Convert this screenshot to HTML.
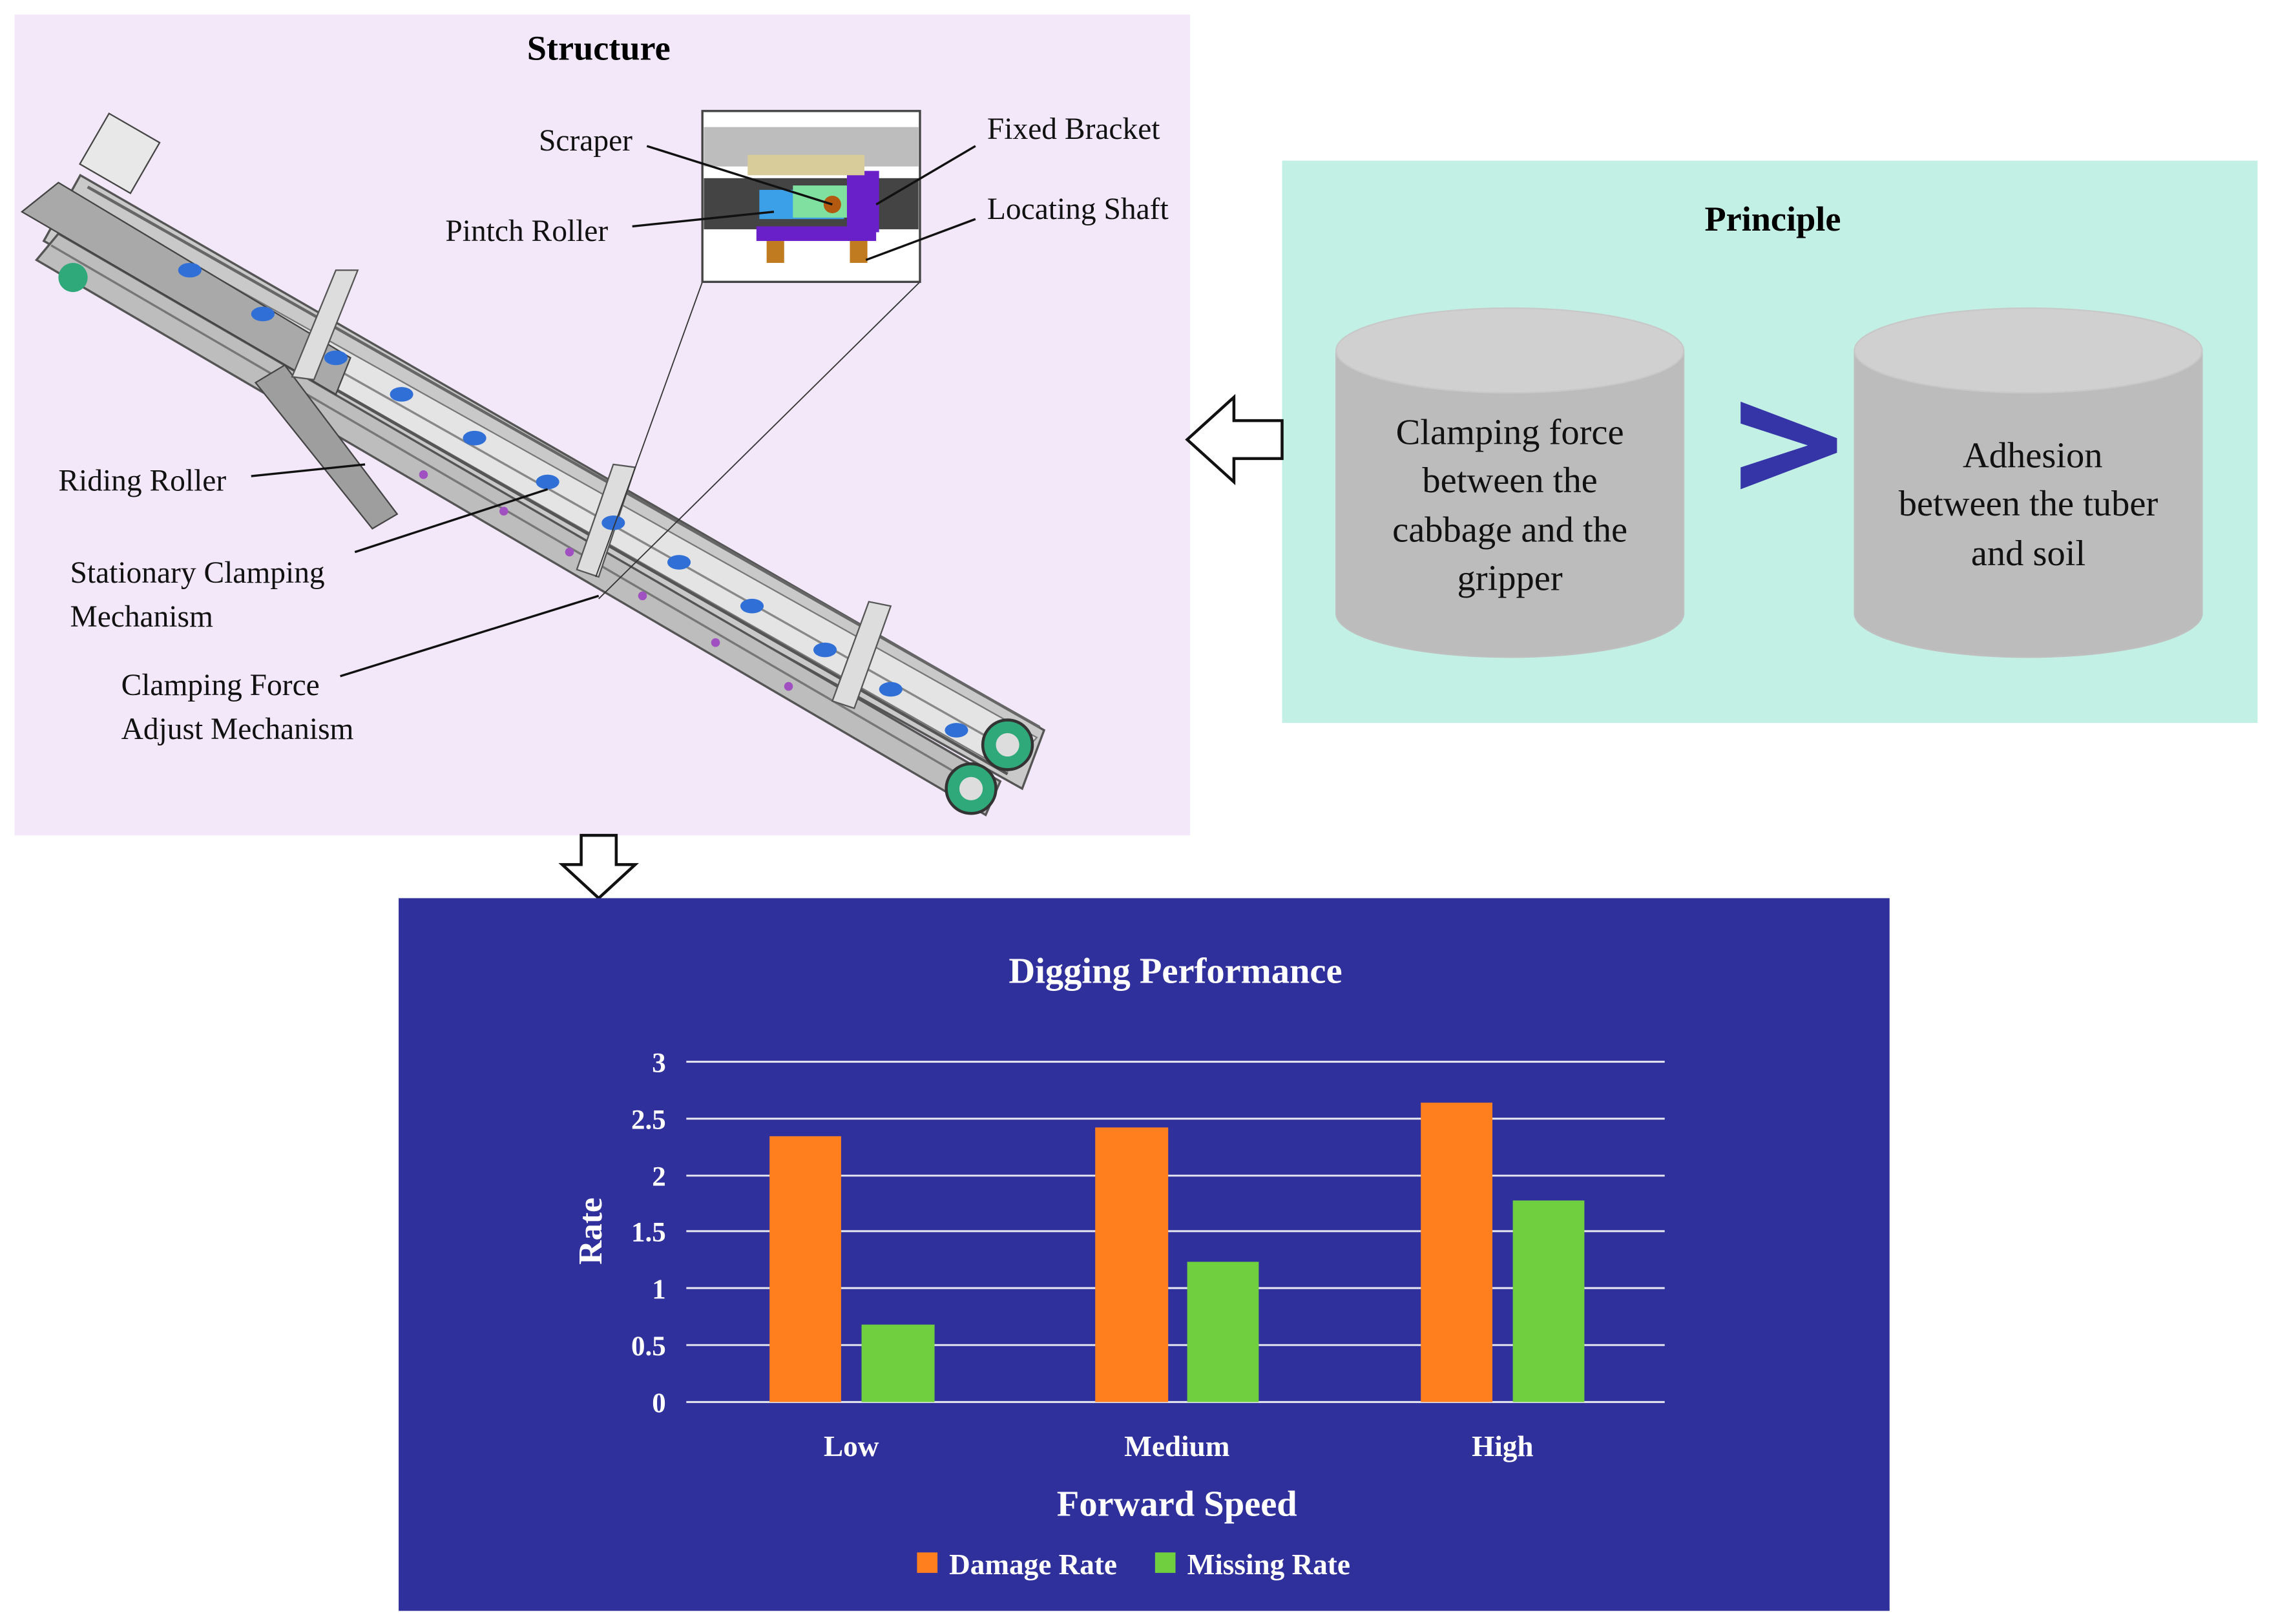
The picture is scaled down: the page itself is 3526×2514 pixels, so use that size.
<!DOCTYPE html>
<html><head><meta charset="utf-8"><style>html,body{margin:0;padding:0;background:#fff}svg{display:block}</style></head>
<body>
<svg width="3526" height="2514" viewBox="0 0 1560 1112" preserveAspectRatio="none" xmlns="http://www.w3.org/2000/svg" font-family="'Liberation Serif',serif">
<rect x="0" y="0" width="1560" height="1112" fill="#fff"/>
<!-- Structure panel -->
<rect x="10" y="10" width="805" height="562" fill="#f3e8fa"/>
<text x="410" y="41" font-size="24" font-weight="bold" text-anchor="middle">Structure</text>
<!-- machine -->
<g>
  <polygon points="55,120 715,500 700,540 30,165" fill="#c9c9c9" stroke="#555" stroke-width="1.5"/>
  <polygon points="50,135 710,505 690,528 35,155" fill="#e4e4e4" stroke="#777"/>
  <polygon points="40,160 685,535 675,558 25,178" fill="#bdbdbd" stroke="#555" stroke-width="1.5"/>
  <line x1="60" y1="128" x2="712" y2="498" stroke="#666" stroke-width="2"/>
  <line x1="45" y1="148" x2="700" y2="518" stroke="#888" stroke-width="1.5"/>
  <line x1="40" y1="158" x2="690" y2="530" stroke="#555" stroke-width="2"/>
  <line x1="35" y1="168" x2="682" y2="545" stroke="#777" stroke-width="1.5"/>
  <!-- left end plate -->
  <polygon points="15,145 40,125 240,245 230,270" fill="#a9a9a9" stroke="#444"/>
  <polygon points="175,262 195,250 272,352 255,362" fill="#9e9e9e" stroke="#444"/>
  <circle cx="80" cy="110" r="10" fill="#ddd" stroke="#333" stroke-width="2"/>
  <rect x="62" y="85" width="40" height="40" fill="#e8e8e8" stroke="#444" transform="rotate(30 82 105)"/>
  <!-- frames -->
  <polygon points="230,185 245,185 215,260 200,258" fill="#ddd" stroke="#555"/>
  <polygon points="420,318 435,320 410,395 395,390" fill="#ddd" stroke="#555"/>
  <polygon points="595,412 610,415 585,485 570,480" fill="#ddd" stroke="#555"/>
  <!-- blue clamps -->
  <g fill="#2f6fd6">
    <ellipse cx="130" cy="185" rx="8" ry="5"/><ellipse cx="180" cy="215" rx="8" ry="5"/>
    <ellipse cx="230" cy="245" rx="8" ry="5"/><ellipse cx="275" cy="270" rx="8" ry="5"/>
    <ellipse cx="325" cy="300" rx="8" ry="5"/><ellipse cx="375" cy="330" rx="8" ry="5"/>
    <ellipse cx="420" cy="358" rx="8" ry="5"/><ellipse cx="465" cy="385" rx="8" ry="5"/>
    <ellipse cx="515" cy="415" rx="8" ry="5"/><ellipse cx="565" cy="445" rx="8" ry="5"/>
    <ellipse cx="610" cy="472" rx="8" ry="5"/><ellipse cx="655" cy="500" rx="8" ry="5"/>
  </g>
  <g fill="#a050c0">
    <circle cx="290" cy="325" r="3"/><circle cx="345" cy="350" r="3"/><circle cx="390" cy="378" r="3"/>
    <circle cx="440" cy="408" r="3"/><circle cx="490" cy="440" r="3"/><circle cx="540" cy="470" r="3"/>
  </g>
  <!-- end wheels -->
  <circle cx="690" cy="510" r="17" fill="#2fa87a" stroke="#333" stroke-width="2"/>
  <circle cx="690" cy="510" r="8" fill="#ddd"/>
  <circle cx="665" cy="540" r="17" fill="#2fa87a" stroke="#333" stroke-width="2"/>
  <circle cx="665" cy="540" r="8" fill="#ddd"/>
  <circle cx="50" cy="190" r="10" fill="#2fa87a"/>
</g>
<!-- inset -->
<line x1="481" y1="193" x2="408" y2="395" stroke="#333" stroke-width="0.8"/>
<line x1="630" y1="193" x2="410" y2="410" stroke="#333" stroke-width="0.8"/>
<rect x="481" y="76" width="149" height="117" fill="#fff" stroke="#444" stroke-width="1.5"/>
<rect x="482" y="87" width="147" height="27" fill="#bdbdbd"/>
<rect x="482" y="122" width="147" height="35" fill="#444"/>
<rect x="555" y="140" width="100" height="40" fill="none"/>
<rect x="520" y="130" width="58" height="20" fill="#3ba0e8"/>
<rect x="543" y="127" width="38" height="22" fill="#7fe0a0"/>
<circle cx="570" cy="140" r="6" fill="#b35a10"/>
<rect x="580" y="117" width="22" height="42" fill="#6a20c8"/>
<rect x="518" y="155" width="82" height="10" fill="#6a20c8"/>
<rect x="512" y="106" width="80" height="14" fill="#d8cc9a"/>
<rect x="525" y="165" width="12" height="15" fill="#c07a20"/>
<rect x="582" y="165" width="12" height="15" fill="#c07a20"/>
<!-- labels -->
<g font-size="21" fill="#111">
<text x="369" y="103">Scraper</text>
<text x="305" y="165">Pintch Roller</text>
<text x="676" y="95">Fixed Bracket</text>
<text x="676" y="150">Locating Shaft</text>
<text x="40" y="336">Riding Roller</text>
<text x="48" y="399">Stationary Clamping</text>
<text x="48" y="429">Mechanism</text>
<text x="83" y="476">Clamping Force</text>
<text x="83" y="506">Adjust Mechanism</text>
</g>
<g stroke="#111" stroke-width="1.5" fill="none">
<line x1="443" y1="100" x2="570" y2="140"/>
<line x1="433" y1="155" x2="530" y2="145"/>
<line x1="668" y1="100" x2="600" y2="140"/>
<line x1="668" y1="150" x2="593" y2="178"/>
<line x1="172" y1="326" x2="250" y2="318"/>
<line x1="243" y1="378" x2="375" y2="335"/>
<line x1="233" y1="463" x2="410" y2="408"/>
</g>
<!-- Principle panel -->
<rect x="878" y="110" width="668" height="385" fill="#c3f0e5"/>
<text x="1214" y="158" font-size="24" font-weight="bold" text-anchor="middle">Principle</text>
<g fill="#bfbfbf" stroke="#bfbfbf">
<path d="M915,240 L915,420 A119,30 0 0 0 1153,420 L1153,240 Z" fill="#bcbcbc"/>
<ellipse cx="1034" cy="240" rx="119" ry="29" fill="#d0d0d0" stroke="#c8c8c8"/>
<path d="M1270,240 L1270,420 A119,30 0 0 0 1508,420 L1508,240 Z" fill="#bcbcbc"/>
<ellipse cx="1389" cy="240" rx="119" ry="29" fill="#d0d0d0" stroke="#c8c8c8"/>
</g>
<g font-size="25" fill="#111" text-anchor="middle">
<text x="1034" y="304">Clamping force</text>
<text x="1034" y="337">between the</text>
<text x="1034" y="371">cabbage and the</text>
<text x="1034" y="404">gripper</text>
<text x="1392" y="320">Adhesion</text>
<text x="1389" y="353">between the tuber</text>
<text x="1389" y="387">and soil</text>
</g>
<polygon points="1192,275 1258,300 1258,310 1192,335 1192,320 1238,305 1192,290" fill="#3535a8"/>
<!-- arrows -->
<polygon points="878,288 845,288 845,272 813,301 845,330 845,314 878,314" fill="#fff" stroke="#111" stroke-width="2"/>
<polygon points="398,572 422,572 422,592 435,592 410,615 385,592 398,592" fill="#fff" stroke="#111" stroke-width="2"/>
<!-- Chart panel -->
<rect x="273" y="615" width="1021" height="488" fill="#30309c"/>
<text x="805" y="673" font-size="25" font-weight="bold" fill="#fff" text-anchor="middle">Digging Performance</text>
<g stroke="#e8e8f0" stroke-width="1.3">
<line x1="470" y1="727" x2="1140" y2="727"/><line x1="470" y1="766" x2="1140" y2="766"/>
<line x1="470" y1="805" x2="1140" y2="805"/><line x1="470" y1="843" x2="1140" y2="843"/>
<line x1="470" y1="882" x2="1140" y2="882"/><line x1="470" y1="921" x2="1140" y2="921"/>
<line x1="470" y1="960" x2="1140" y2="960"/>
</g>
<g font-size="19" font-weight="bold" fill="#fff" text-anchor="end">
<text x="456" y="734">3</text><text x="456" y="773">2.5</text><text x="456" y="812">2</text>
<text x="456" y="850">1.5</text><text x="456" y="889">1</text><text x="456" y="928">0.5</text><text x="456" y="967">0</text>
</g>
<text transform="translate(412,843) rotate(-90)" font-size="23" font-weight="bold" fill="#fff" text-anchor="middle">Rate</text>
<g fill="#ff7f1e">
<rect x="527" y="778" width="49" height="182"/>
<rect x="750" y="772" width="50" height="188"/>
<rect x="973" y="755" width="49" height="205"/>
</g>
<g fill="#6fcf3f">
<rect x="590" y="907" width="50" height="53"/>
<rect x="813" y="864" width="49" height="96"/>
<rect x="1036" y="822" width="49" height="138"/>
</g>
<g font-size="20" font-weight="bold" fill="#fff" text-anchor="middle">
<text x="583" y="997">Low</text><text x="806" y="997">Medium</text><text x="1029" y="997">High</text>
</g>
<text x="806" y="1038" font-size="25" font-weight="bold" fill="#fff" text-anchor="middle">Forward Speed</text>
<rect x="628" y="1063" width="14" height="14" fill="#ff7f1e"/>
<text x="650" y="1078" font-size="20" font-weight="bold" fill="#fff">Damage Rate</text>
<rect x="791" y="1063" width="14" height="14" fill="#6fcf3f"/>
<text x="813" y="1078" font-size="20" font-weight="bold" fill="#fff">Missing Rate</text>
</svg>
</body></html>
